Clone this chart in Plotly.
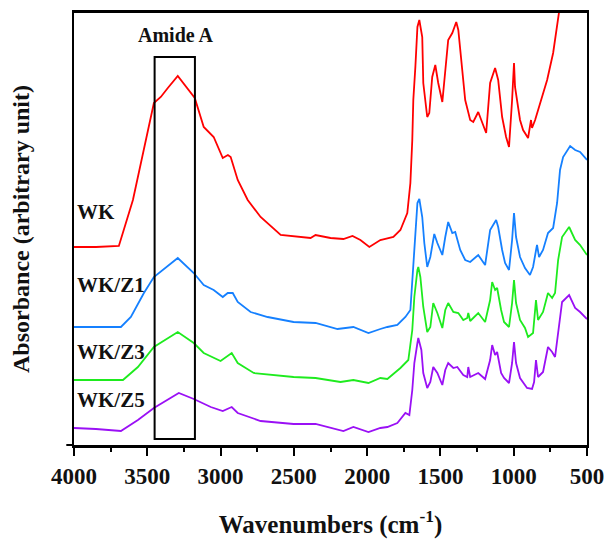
import plotly.graph_objects as go

# FTIR spectra (stacked, arbitrary absorbance offsets)
wk_wn = [4000, 3850, 3694, 3598, 3455, 3408, 3360, 3292, 3176, 3115, 3047, 2985, 2950, 2931,
         2883, 2815, 2727, 2590, 2386, 2352, 2250, 2162, 2100, 2046, 1985, 1910, 1821, 1773,
         1726, 1705, 1692, 1685, 1671, 1657, 1644, 1624, 1617, 1590, 1576, 1556, 1535, 1515,
         1487, 1474, 1447, 1419, 1392, 1378, 1351, 1331, 1297, 1276, 1242, 1215, 1188, 1161,
         1127, 1106, 1079, 1052, 1032, 1011, 998, 991, 977, 957, 936, 902, 882, 875, 854, 820,
         772, 731, 704, 684, 650, 600, 500]
wk_abs = [1.98, 1.98, 1.99, 2.45, 3.42, 3.48, 3.57, 3.69, 3.47, 3.18, 3.08, 2.87, 2.90, 2.88,
          2.65, 2.45, 2.28, 2.10, 2.07, 2.10, 2.07, 2.06, 2.09, 2.05, 1.98, 2.05, 2.08, 2.15,
          2.32, 2.62, 3.05, 3.45, 3.78, 4.18, 4.25, 4.08, 3.62, 3.28, 3.32, 3.68, 3.80, 3.62,
          3.43, 3.65, 4.05, 4.12, 4.23, 4.15, 3.78, 3.45, 3.25, 3.23, 3.33, 3.22, 3.12, 3.62,
          3.77, 3.65, 3.28, 3.08, 2.98, 3.45, 3.82, 3.58, 3.45, 3.25, 3.15, 3.07, 3.25, 3.17,
          3.25, 3.42, 3.65, 3.92, 4.18, 4.35, 4.75, 5.25, 5.95]

z1_wn = [4000, 3850, 3680, 3612, 3523, 3455, 3292, 3183, 3115, 3047, 2985, 2951, 2917, 2883,
         2795, 2679, 2502, 2352, 2202, 2094, 1991, 1910, 1862, 1794, 1739, 1705, 1685, 1671,
         1657, 1644, 1624, 1610, 1590, 1569, 1542, 1521, 1487, 1467, 1447, 1419, 1399, 1365,
         1331, 1297, 1262, 1242, 1195, 1161, 1120, 1106, 1079, 1059, 1032, 1011, 998, 984,
         957, 923, 889, 868, 845, 841, 827, 800, 766, 731, 704, 684, 663, 615, 581, 547, 500]
z1_abs = [1.18, 1.18, 1.18, 1.28, 1.52, 1.68, 1.87, 1.72, 1.60, 1.55, 1.48, 1.52, 1.52, 1.43,
          1.33, 1.28, 1.23, 1.22, 1.16, 1.18, 1.12, 1.16, 1.18, 1.20, 1.28, 1.35, 1.82, 2.15,
          2.42, 2.46, 2.28, 2.02, 1.78, 1.88, 2.11, 2.02, 1.90, 2.08, 2.23, 2.12, 2.13, 1.95,
          1.85, 1.83, 1.87, 1.90, 1.80, 2.15, 2.25, 2.18, 1.95, 1.82, 1.75, 2.05, 2.32, 2.08,
          1.88, 1.77, 1.70, 1.78, 1.97, 2.00, 1.88, 1.95, 2.12, 2.17, 2.42, 2.75, 2.88, 2.99,
          2.95, 2.93, 2.85]

z3_wn = [4000, 3850, 3666, 3564, 3455, 3292, 3183, 3115, 3000, 2924, 2883, 2774, 2502, 2352,
         2182, 2094, 1991, 1910, 1862, 1773, 1719, 1692, 1678, 1657, 1651, 1637, 1617, 1590,
         1569, 1549, 1521, 1487, 1467, 1447, 1412, 1378, 1344, 1317, 1310, 1297, 1242, 1195,
         1161, 1147, 1127, 1113, 1086, 1066, 1032, 1011, 998, 984, 957, 923, 902, 868, 848,
         834, 800, 766, 738, 718, 697, 670, 622, 581, 547, 500]
z3_abs = [0.65, 0.65, 0.65, 0.78, 0.98, 1.13, 1.02, 0.92, 0.84, 0.92, 0.82, 0.72, 0.68, 0.67,
          0.63, 0.65, 0.62, 0.67, 0.66, 0.77, 0.85, 1.15, 1.48, 1.75, 1.78, 1.68, 1.38, 1.13,
          1.18, 1.42, 1.32, 1.17, 1.35, 1.42, 1.33, 1.32, 1.25, 1.27, 1.32, 1.24, 1.32, 1.23,
          1.45, 1.63, 1.55, 1.57, 1.35, 1.23, 1.18, 1.42, 1.65, 1.42, 1.25, 1.17, 1.08, 1.12,
          1.45, 1.25, 1.33, 1.52, 1.47, 1.52, 1.85, 2.08, 2.18, 2.05, 2.00, 1.90]

z5_wn = [4000, 3850, 3680, 3564, 3455, 3285, 3183, 3067, 2985, 2924, 2883, 2727, 2502, 2352,
         2162, 2094, 1991, 1910, 1862, 1794, 1739, 1712, 1692, 1678, 1657, 1651, 1630, 1617,
         1590, 1569, 1549, 1521, 1487, 1467, 1447, 1412, 1385, 1344, 1317, 1310, 1297, 1242,
         1195, 1161, 1147, 1127, 1113, 1086, 1066, 1032, 1011, 998, 984, 957, 909, 875, 861,
         848, 834, 800, 766, 738, 718, 697, 670, 622, 581, 547, 500]
z5_abs = [0.17, 0.16, 0.14, 0.25, 0.37, 0.52, 0.46, 0.38, 0.34, 0.38, 0.32, 0.24, 0.21, 0.21,
          0.14, 0.18, 0.13, 0.17, 0.18, 0.22, 0.32, 0.30, 0.55, 0.82, 1.02, 1.07, 0.95, 0.72,
          0.57, 0.63, 0.78, 0.72, 0.60, 0.75, 0.82, 0.77, 0.78, 0.70, 0.68, 0.78, 0.68, 0.72,
          0.66, 0.85, 1.00, 0.90, 0.93, 0.72, 0.67, 0.62, 0.82, 1.03, 0.82, 0.67, 0.57, 0.56,
          0.63, 0.85, 0.68, 0.73, 0.98, 0.93, 0.88, 1.10, 1.43, 1.50, 1.37, 1.33, 1.26]

series_names = ["WK", "WK/Z1", "WK/Z3", "WK/Z5"]
series_colors = ["#FF0000", "#1580FF", "#1EEB1E", "#9A10F5"]
label_y = [2.33, 1.60, 0.93, 0.45]

# Amide A band region
amide_range = [3450, 3175]
amide_box_y = [0.06, 3.88]

x_ticks = [4000, 3500, 3000, 2500, 2000, 1500, 1000, 500]

serif = "Liberation Serif, Times New Roman, serif"

fig = go.Figure()
for wn, ab, name, col in zip([wk_wn, z1_wn, z3_wn, z5_wn],
                             [wk_abs, z1_abs, z3_abs, z5_abs],
                             series_names, series_colors):
    fig.add_trace(go.Scatter(x=wn, y=ab, mode="lines", name=name,
                             line=dict(color=col, width=1.8), showlegend=False))

# sample labels at the left edge
for name, yv in zip(series_names, label_y):
    fig.add_annotation(x=3995, y=yv, text="<b>%s</b>" % name, showarrow=False,
                       xanchor="left", yanchor="middle",
                       font=dict(family=serif, size=21, color="#111111"))

# Amide A box and label
fig.add_shape(type="rect", xref="x", yref="y",
              x0=amide_range[0], x1=amide_range[1], y0=amide_box_y[0], y1=amide_box_y[1],
              line=dict(color="black", width=2))
fig.add_annotation(x=sum(amide_range) / 2 - 5, y=4.10, text="<b>Amide A</b>", showarrow=False,
                   xanchor="center", yanchor="middle",
                   font=dict(family=serif, size=20, color="#111111"))

# short extension of the bottom axis line to the left
fig.add_shape(type="line", xref="paper", yref="paper", x0=-0.015, x1=0, y0=0, y1=0,
              line=dict(color="black", width=2))

fig.update_layout(
    width=609, height=539,
    margin=dict(l=74, r=22, t=13, b=94),
    paper_bgcolor="white", plot_bgcolor="white",
    xaxis=dict(range=[4000, 500], tickvals=x_ticks, ticktext=["<b>%d</b>" % v for v in x_ticks],
               showgrid=False, zeroline=False, showline=True, mirror=True, automargin=False,
               linecolor="black", linewidth=3, ticks="outside", ticklen=8, tickwidth=2,
               tickcolor="black",
               minor=dict(dtick=250, ticks="outside", ticklen=4, tickwidth=1.5, tickcolor="black"),
               tickfont=dict(family=serif, size=23, color="#111111"),
               title=dict(text="<b>Wavenumbers (cm<sup>-1</sup>)</b>", standoff=28,
                          font=dict(family=serif, size=25, color="#111111"))),
    yaxis=dict(range=[0, 4.32], tickvals=[], showticklabels=False, ticks="", showgrid=False,
               automargin=False,
               zeroline=False, showline=True, mirror=True, linecolor="black", linewidth=2,
               title=dict(text="<b>Absorbance (arbitrary unit)</b>", standoff=36,
                          font=dict(family=serif, size=24, color="#111111"))),
)

fig.write_html("out.html")
